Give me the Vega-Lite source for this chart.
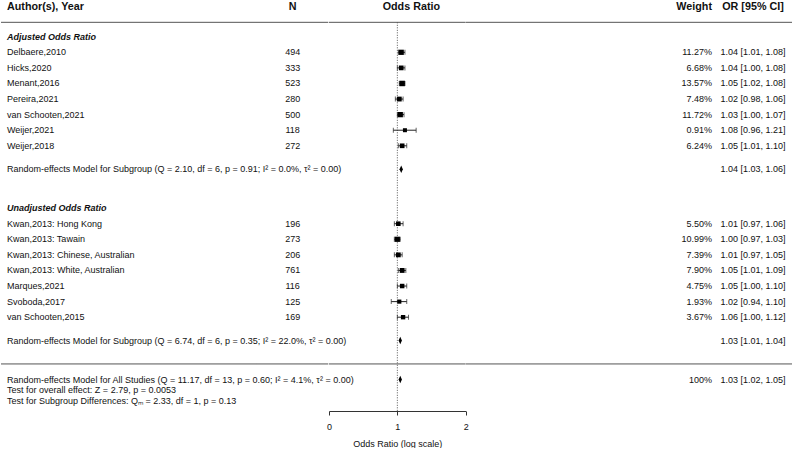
{
  "$schema": "https://vega.github.io/schema/vega-lite/v6.json",
  "padding": 0,
  "spacing": 0,
  "bounds": "flush",
  "config": {
    "view": {"stroke": null},
    "text": {"font": "Liberation Sans", "fontSize": 9, "color": "#111", "baseline": "middle"},
    "axis": {"grid": false, "domainColor": "#333", "tickColor": "#333", "tickSize": 4, "labelFont": "Liberation Sans", "labelFontSize": 9, "labelColor": "#111", "labelPadding": 7, "labelFlush": false, "titleFont": "Liberation Sans", "titleFontSize": 9, "titleFontWeight": "normal", "titleColor": "#111", "titlePadding": 8}
  },
  "datasets": {
    "rows": [
      {"row": 0, "kind": "group", "label": "Adjusted Odds Ratio"},
      {"row": 1, "kind": "study", "label": "Delbaere,2010", "n": 494, "wt": "11.27%", "w": 11.27, "est": 1.04, "lo": 1.01, "hi": 1.08, "ci": "1.04 [1.01, 1.08]"},
      {"row": 2, "kind": "study", "label": "Hicks,2020", "n": 333, "wt": "6.68%", "w": 6.68, "est": 1.04, "lo": 1.00, "hi": 1.08, "ci": "1.04 [1.00, 1.08]"},
      {"row": 3, "kind": "study", "label": "Menant,2016", "n": 523, "wt": "13.57%", "w": 13.57, "est": 1.05, "lo": 1.02, "hi": 1.08, "ci": "1.05 [1.02, 1.08]"},
      {"row": 4, "kind": "study", "label": "Pereira,2021", "n": 280, "wt": "7.48%", "w": 7.48, "est": 1.02, "lo": 0.98, "hi": 1.06, "ci": "1.02 [0.98, 1.06]"},
      {"row": 5, "kind": "study", "label": "van Schooten,2021", "n": 500, "wt": "11.72%", "w": 11.72, "est": 1.03, "lo": 1.00, "hi": 1.07, "ci": "1.03 [1.00, 1.07]"},
      {"row": 6, "kind": "study", "label": "Weijer,2021", "n": 118, "wt": "0.91%", "w": 0.91, "est": 1.08, "lo": 0.96, "hi": 1.21, "ci": "1.08 [0.96, 1.21]"},
      {"row": 7, "kind": "study", "label": "Weijer,2018", "n": 272, "wt": "6.24%", "w": 6.24, "est": 1.05, "lo": 1.01, "hi": 1.10, "ci": "1.05 [1.01, 1.10]"},
      {"row": 8.5, "kind": "summary", "label": "Random-effects Model for Subgroup (Q = 2.10, df = 6, p = 0.91; I² = 0.0%, τ² = 0.00)", "est": 1.04, "lo": 1.03, "hi": 1.06, "ci": "1.04 [1.03, 1.06]"},
      {"row": 11, "kind": "group", "label": "Unadjusted Odds Ratio"},
      {"row": 12, "kind": "study", "label": "Kwan,2013: Hong Kong", "n": 196, "wt": "5.50%", "w": 5.50, "est": 1.01, "lo": 0.97, "hi": 1.06, "ci": "1.01 [0.97, 1.06]"},
      {"row": 13, "kind": "study", "label": "Kwan,2013: Tawain", "n": 273, "wt": "10.99%", "w": 10.99, "est": 1.00, "lo": 0.97, "hi": 1.03, "ci": "1.00 [0.97, 1.03]"},
      {"row": 14, "kind": "study", "label": "Kwan,2013: Chinese, Australian", "n": 206, "wt": "7.39%", "w": 7.39, "est": 1.01, "lo": 0.97, "hi": 1.05, "ci": "1.01 [0.97, 1.05]"},
      {"row": 15, "kind": "study", "label": "Kwan,2013: White, Australian", "n": 761, "wt": "7.90%", "w": 7.90, "est": 1.05, "lo": 1.01, "hi": 1.09, "ci": "1.05 [1.01, 1.09]"},
      {"row": 16, "kind": "study", "label": "Marques,2021", "n": 116, "wt": "4.75%", "w": 4.75, "est": 1.05, "lo": 1.00, "hi": 1.10, "ci": "1.05 [1.00, 1.10]"},
      {"row": 17, "kind": "study", "label": "Svoboda,2017", "n": 125, "wt": "1.93%", "w": 1.93, "est": 1.02, "lo": 0.94, "hi": 1.10, "ci": "1.02 [0.94, 1.10]"},
      {"row": 18, "kind": "study", "label": "van Schooten,2015", "n": 169, "wt": "3.67%", "w": 3.67, "est": 1.06, "lo": 1.00, "hi": 1.12, "ci": "1.06 [1.00, 1.12]"},
      {"row": 19.5, "kind": "summary", "label": "Random-effects Model for Subgroup (Q = 6.74, df = 6, p = 0.35; I² = 22.0%, τ² = 0.00)", "est": 1.03, "lo": 1.01, "hi": 1.04, "ci": "1.03 [1.01, 1.04]"},
      {"row": 22, "kind": "summary", "label": "Random-effects Model for All Studies (Q = 11.17, df = 13, p = 0.60; I² = 4.1%, τ² = 0.00)", "wt": "100%", "est": 1.03, "lo": 1.02, "hi": 1.05, "ci": "1.03 [1.02, 1.05]"},
      {"row": 22.68, "kind": "note", "label": "Test for overall effect: Z = 2.79, p =  0.0053"},
      {"row": 23.35, "kind": "note", "label": "Test for Subgroup Differences: Qₘ = 2.33, df = 1, p = 0.13"}
    ]
  },
  "hconcat": [
    {
      "width": 256, "height": 411,
      "data": {"name": "rows"},
      "layer": [
        {"data": {"values": [{}]}, "mark": {"type": "rule", "color": "#555"}, "encoding": {"y": {"datum": -0.925, "type": "quantitative", "scale": {"domain": [-2.357, 24.02], "reverse": true, "nice": false, "zero": false}, "axis": null}}},
        {"data": {"values": [{}]}, "mark": {"type": "rule", "color": "#555"}, "encoding": {"y": {"datum": 21, "type": "quantitative"}}},
        {"data": {"values": [{}]}, "mark": {"type": "text", "align": "left", "dx": 6, "fontWeight": "bold", "fontSize": 10.75}, "encoding": {"x": {"value": 0}, "y": {"datum": -1.9, "type": "quantitative"}, "text": {"value": "Author(s), Year"}}},
        {"transform": [{"filter": "datum.kind == 'group'"}], "mark": {"type": "text", "align": "left", "dx": 6, "fontWeight": "bold", "fontStyle": "italic"}, "encoding": {"x": {"value": 0}, "y": {"field": "row", "type": "quantitative"}, "text": {"field": "label"}}},
        {"transform": [{"filter": "datum.kind != 'group'"}], "mark": {"type": "text", "align": "left", "dx": 6}, "encoding": {"x": {"value": 0}, "y": {"field": "row", "type": "quantitative"}, "text": {"field": "label"}}}
      ]
    },
    {
      "width": 71.3, "height": 411,
      "data": {"name": "rows"},
      "layer": [
        {"data": {"values": [{}]}, "mark": {"type": "rule", "color": "#555"}, "encoding": {"y": {"datum": -0.925, "type": "quantitative", "scale": {"domain": [-2.357, 24.02], "reverse": true, "nice": false, "zero": false}, "axis": null}}},
        {"data": {"values": [{}]}, "mark": {"type": "rule", "color": "#555"}, "encoding": {"y": {"datum": 21, "type": "quantitative"}}},
        {"data": {"values": [{}]}, "mark": {"type": "text", "align": "center", "fontWeight": "bold", "fontSize": 10.75}, "encoding": {"y": {"datum": -1.9, "type": "quantitative"}, "text": {"value": "N"}}},
        {"transform": [{"filter": "datum.kind == 'study'"}], "mark": {"type": "text", "align": "center"}, "encoding": {"y": {"field": "row", "type": "quantitative"}, "text": {"field": "n", "type": "nominal"}}}
      ]
    },
    {
      "width": 136.7, "height": 411,
      "data": {"name": "rows"},
      "layer": [
        {"data": {"values": [{}]}, "mark": {"type": "rule", "color": "#555"}, "encoding": {"y": {"datum": -0.925, "type": "quantitative", "scale": {"domain": [-2.357, 24.02], "reverse": true, "nice": false, "zero": false}, "axis": null}}},
        {"data": {"values": [{}]}, "mark": {"type": "rule", "color": "#555"}, "encoding": {"y": {"datum": 21, "type": "quantitative"}}},
        {"data": {"values": [{}]}, "mark": {"type": "text", "align": "center", "dx": 14, "fontWeight": "bold", "fontSize": 10.75}, "encoding": {"y": {"datum": -1.9, "type": "quantitative"}, "text": {"value": "Odds Ratio"}}},
        {"data": {"values": [{}]}, "mark": {"type": "rule", "color": "#555", "strokeDash": [1, 1.5]}, "encoding": {
          "x": {"datum": 1, "type": "quantitative", "scale": {"type": "log", "domain": [0.5, 2], "nice": false}, "title": "Odds Ratio (log scale)", "axis": {"values": [0.5, 1, 2], "labelExpr": "datum.value < 0.75 ? '0' : (datum.value < 1.5 ? '1' : '2')", "title": "Odds Ratio (log scale)"}},
          "y": {"datum": -0.925, "type": "quantitative"}, "y2": {"datum": 24.02}}},
        {"transform": [{"filter": "datum.kind == 'study'"}], "mark": {"type": "rule", "color": "#222"}, "encoding": {
          "x": {"field": "lo", "type": "quantitative", "title": "Odds Ratio (log scale)", "axis": {"values": [0.5, 1, 2], "labelExpr": "datum.value < 0.75 ? '0' : (datum.value < 1.5 ? '1' : '2')", "title": "Odds Ratio (log scale)"}},
          "x2": {"field": "hi"},
          "y": {"field": "row", "type": "quantitative"}}},
        {"transform": [{"filter": "datum.kind == 'study'"}], "mark": {"type": "tick", "orient": "vertical", "size": 5, "thickness": 1, "color": "#222"}, "encoding": {
          "x": {"field": "lo", "type": "quantitative", "title": "Odds Ratio (log scale)", "axis": {"values": [0.5, 1, 2], "labelExpr": "datum.value < 0.75 ? '0' : (datum.value < 1.5 ? '1' : '2')", "title": "Odds Ratio (log scale)"}},
          "y": {"field": "row", "type": "quantitative"}}},
        {"transform": [{"filter": "datum.kind == 'study'"}], "mark": {"type": "tick", "orient": "vertical", "size": 5, "thickness": 1, "color": "#222"}, "encoding": {
          "x": {"field": "hi", "type": "quantitative", "title": "Odds Ratio (log scale)", "axis": {"values": [0.5, 1, 2], "labelExpr": "datum.value < 0.75 ? '0' : (datum.value < 1.5 ? '1' : '2')", "title": "Odds Ratio (log scale)"}},
          "y": {"field": "row", "type": "quantitative"}}},
        {"transform": [{"filter": "datum.kind == 'study'"}], "mark": {"type": "point", "shape": "square", "filled": true, "color": "#000", "opacity": 1}, "encoding": {
          "x": {"field": "est", "type": "quantitative", "title": "Odds Ratio (log scale)", "axis": {"values": [0.5, 1, 2], "labelExpr": "datum.value < 0.75 ? '0' : (datum.value < 1.5 ? '1' : '2')", "title": "Odds Ratio (log scale)"}},
          "y": {"field": "row", "type": "quantitative"},
          "size": {"field": "w", "type": "quantitative", "scale": {"domain": [0.91, 13.57], "range": [16, 30]}, "legend": null}}},
        {"transform": [{"filter": "datum.kind == 'summary'"}], "mark": {"type": "point", "shape": "M0,-1L0.45,0L0,1L-0.45,0Z", "filled": true, "color": "#000", "opacity": 1, "size": 56}, "encoding": {
          "x": {"field": "est", "type": "quantitative", "title": "Odds Ratio (log scale)", "axis": {"values": [0.5, 1, 2], "labelExpr": "datum.value < 0.75 ? '0' : (datum.value < 1.5 ? '1' : '2')", "title": "Odds Ratio (log scale)"}},
          "y": {"field": "row", "type": "quantitative"}}}
      ]
    },
    {
      "width": 246, "height": 411,
      "data": {"name": "rows"},
      "layer": [
        {"data": {"values": [{}]}, "mark": {"type": "rule", "color": "#555"}, "encoding": {"y": {"datum": -0.925, "type": "quantitative", "scale": {"domain": [-2.357, 24.02], "reverse": true, "nice": false, "zero": false}, "axis": null}}},
        {"data": {"values": [{}]}, "mark": {"type": "rule", "color": "#555"}, "encoding": {"y": {"datum": 21, "type": "quantitative"}}},
        {"data": {"values": [{}]}, "mark": {"type": "text", "align": "right", "fontWeight": "bold", "fontSize": 10.75}, "encoding": {"x": {"value": "width"}, "y": {"datum": -1.9, "type": "quantitative"}, "text": {"value": "Weight"}}},
        {"transform": [{"filter": "isValid(datum.wt)"}], "mark": {"type": "text", "align": "right"}, "encoding": {"x": {"value": "width"}, "y": {"field": "row", "type": "quantitative"}, "text": {"field": "wt"}}}
      ]
    },
    {
      "width": 82, "height": 411,
      "data": {"name": "rows"},
      "layer": [
        {"data": {"values": [{}]}, "mark": {"type": "rule", "color": "#555"}, "encoding": {"y": {"datum": -0.925, "type": "quantitative", "scale": {"domain": [-2.357, 24.02], "reverse": true, "nice": false, "zero": false}, "axis": null}}},
        {"data": {"values": [{}]}, "mark": {"type": "rule", "color": "#555"}, "encoding": {"y": {"datum": 21, "type": "quantitative"}}},
        {"data": {"values": [{}]}, "mark": {"type": "text", "align": "center", "fontWeight": "bold", "fontSize": 10.75}, "encoding": {"y": {"datum": -1.9, "type": "quantitative"}, "text": {"value": "OR [95% CI]"}}},
        {"transform": [{"filter": "isValid(datum.ci)"}], "mark": {"type": "text", "align": "center"}, "encoding": {"y": {"field": "row", "type": "quantitative"}, "text": {"field": "ci"}}}
      ]
    }
  ]
}
